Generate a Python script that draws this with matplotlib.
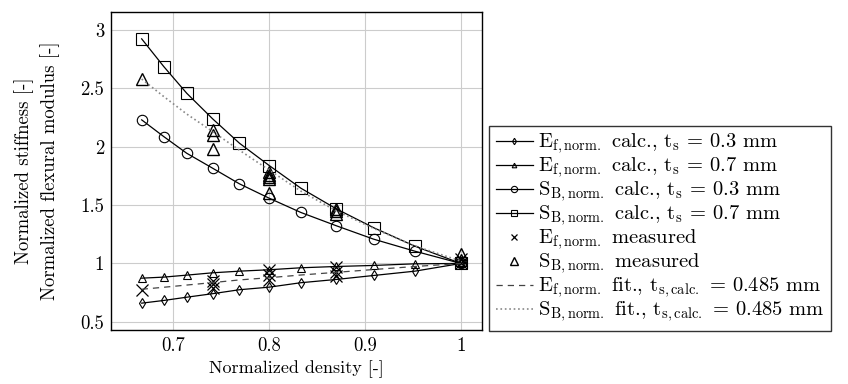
import numpy as np
import matplotlib.pyplot as plt

plt.rcParams['font.family'] = 'cmr10'
plt.rcParams['mathtext.fontset'] = 'cm'
plt.rcParams['axes.formatter.use_mathtext'] = True

# densidad normalizada
density = [0.667, 0.690, 0.714, 0.741, 0.769, 0.800, 0.833, 0.870, 0.909, 0.952, 1.0]

# curvas calculadas
E_03 = [0.660, 0.683, 0.711, 0.741, 0.775, 0.797, 0.835, 0.863, 0.897, 0.934, 1.0]
E_07 = [0.874, 0.883, 0.900, 0.920, 0.934, 0.946, 0.963, 0.974, 0.983, 0.997, 1.0]
S_03 = [2.230, 2.087, 1.944, 1.816, 1.682, 1.559, 1.437, 1.323, 1.208, 1.105, 1.0]
S_07 = [2.924, 2.687, 2.458, 2.239, 2.030, 1.839, 1.645, 1.468, 1.306, 1.148, 1.0]

# ajustes t_s = 0.485 mm
E_fit = [0.779, 0.796, 0.815, 0.836, 0.859, 0.878, 0.901, 0.924, 0.948, 0.974, 1.0]
S_fit = [2.58, 2.43, 2.28, 2.13, 1.97, 1.80, 1.62, 1.45, 1.30, 1.15, 1.02]

# mediciones
E_meas_x = [0.667, 0.741, 0.741, 0.741, 0.800, 0.800, 0.800, 0.870, 0.870, 0.870, 1.0, 1.0]
E_meas_y = [0.77, 0.85, 0.82, 0.79, 0.94, 0.90, 0.86, 0.97, 0.93, 0.89, 1.0, 1.04]
S_meas_x = [0.667, 0.741, 0.741, 0.741, 0.800, 0.800, 0.800, 0.800, 0.800, 0.870, 0.870, 0.870, 1.0, 1.0]
S_meas_y = [2.58, 2.14, 2.10, 1.98, 1.78, 1.76, 1.74, 1.72, 1.60, 1.47, 1.45, 1.42, 1.08, 1.03]

fig = plt.figure(figsize=(8.48, 3.84), dpi=100)
ax = fig.add_axes([111 / 848, 1 - 330 / 384, (482 - 111) / 848, (330 - 12) / 384])

lw = 0.9
ax.plot(density, E_03, '-', color='black', lw=lw, marker='d', ms=5.5, mfc='none', mew=0.8,
        label=r'$\mathrm{E_{f,norm.}}$ calc., $\mathrm{t_s}$ = 0.3 mm')
ax.plot(density, E_07, '-', color='black', lw=lw, marker='^', ms=5.5, mfc='none', mew=0.8,
        label=r'$\mathrm{E_{f,norm.}}$ calc., $\mathrm{t_s}$ = 0.7 mm')
ax.plot(density, S_03, '-', color='black', lw=lw, marker='o', ms=7.5, mfc='none', mew=0.8,
        label=r'$\mathrm{S_{B,norm.}}$ calc., $\mathrm{t_s}$ = 0.3 mm')
ax.plot(density, S_07, '-', color='black', lw=lw, marker='s', ms=8, mfc='none', mew=0.8,
        label=r'$\mathrm{S_{B,norm.}}$ calc., $\mathrm{t_s}$ = 0.7 mm')
ax.plot(E_meas_x, E_meas_y, 'x', color='black', ms=8, mew=0.9,
        label=r'$\mathrm{E_{f,norm.}}$ measured')
ax.plot(S_meas_x, S_meas_y, '^', color='black', ms=9, mfc='none', mew=1.0,
        label=r'$\mathrm{S_{B,norm.}}$ measured')
ax.plot(density, E_fit, '--', color='#444444', lw=lw, dashes=(5, 4),
        label=r'$\mathrm{E_{f,norm.}}$ fit., $\mathrm{t_{s,calc.}}$ = 0.485 mm')
ax.plot(density, S_fit, ':', color='#888888', lw=1.2,
        label=r'$\mathrm{S_{B,norm.}}$ fit., $\mathrm{t_{s,calc.}}$ = 0.485 mm')

ax.set_xlim(0.635, 1.022)
ax.set_ylim(0.43, 3.154)
ax.set_xticks([0.7, 0.8, 0.9, 1.0])
ax.set_xticklabels(['0.7', '0.8', '0.9', '1'])
ax.set_yticks([0.5, 1, 1.5, 2, 2.5, 3])
ax.set_yticklabels(['0.5', '1', '1.5', '2', '2.5', '3'])
ax.tick_params(labelsize=13.5, direction='in', length=0, pad=5)
ax.grid(True, color='#cccccc', lw=0.8)
ax.set_axisbelow(True)
for s in ax.spines.values():
    s.set_linewidth(1.0)

ax.set_xlabel('Normalized density [-]', fontsize=13, labelpad=4)
ax.set_ylabel('Normalized stiffness [-]\nNormalized flexural modulus [-]', fontsize=13.5, linespacing=1.4)
ax.yaxis.set_label_coords(-0.138, 0.5)

leg = ax.legend(loc='center left', bbox_to_anchor=(1.02, 0.32), fontsize=14.8, frameon=True,
                fancybox=False, edgecolor='black', handlelength=1.8, handletextpad=0.25,
                labelspacing=0.0, borderpad=0.3, borderaxespad=0, markerscale=0.6)
leg.get_frame().set_linewidth(1.0)

fig.savefig('out.png', dpi=100)
